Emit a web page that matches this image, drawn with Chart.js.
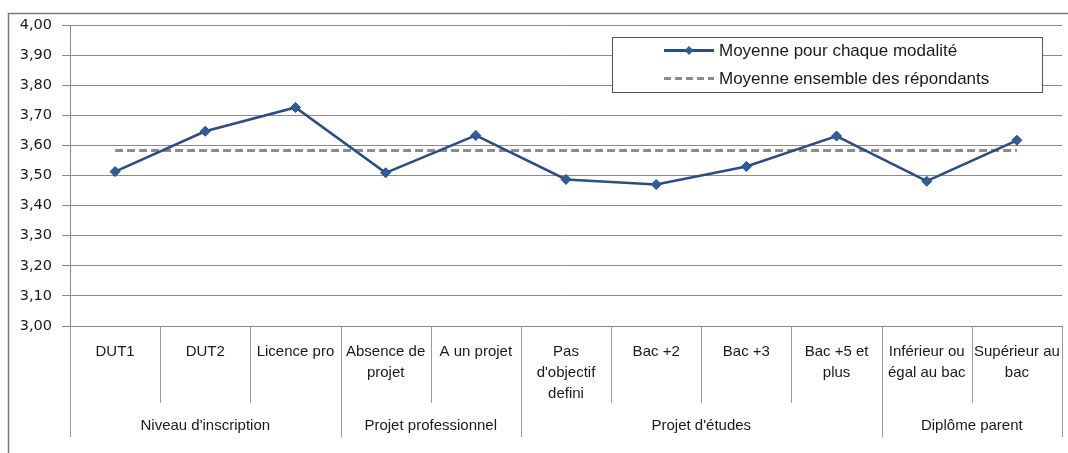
<!DOCTYPE html>
<html><head><meta charset="utf-8">
<script src="https://cdn.jsdelivr.net/npm/chart.js@4.4.1/dist/chart.umd.min.js"></script>
<style>html,body{margin:0;padding:0;background:#fff;overflow:hidden}#wrap{width:1068px;height:453px;position:relative}</style>
</head><body><div id="wrap"><canvas id="c" width="1068" height="453"></canvas></div>
<script>
// ---- data ----
const categories = [["DUT1"],["DUT2"],["Licence pro"],["Absence de","projet"],["A un projet"],["Pas","d'objectif","defini"],["Bac +2"],["Bac +3"],["Bac +5 et","plus"],["Inférieur ou","égal au bac"],["Supérieur au","bac"]];
const groupLabels = ["Niveau d'inscription","Projet professionnel","Projet d'études","Diplôme parent"];
const groupSizes = [3,2,4,2];
const seriesNames = ["Moyenne pour chaque modalité","Moyenne ensemble des répondants"];
const modalityMeans = [3.513,3.647,3.726,3.509,3.633,3.487,3.470,3.530,3.631,3.481,3.617];
const overallMean = [3.583,3.583,3.583,3.583,3.583,3.583,3.583,3.583,3.583,3.583,3.583];
const yMin = 3.0, yMax = 4.0, yStep = 0.1;

const BLUE = '#2a4d84';
const GREY = '#8c8c8c';

const decor = {
  id: 'decor',
  afterDraw(chart) {
    const ctx = chart.ctx, ca = chart.chartArea;
    const n = categories.length;
    const step = (ca.right - ca.left) / n;
    const edge = i => ca.left + i * step;
    ctx.save();
    const groupEdges = [0];
    groupSizes.forEach(s => groupEdges.push(groupEdges[groupEdges.length - 1] + s));
    ctx.strokeStyle = '#9a9a9a';
    ctx.lineWidth = 1;
    for (let i = 0; i <= n; i++) {
      const isGroup = groupEdges.includes(i);
      const px = Math.round(edge(i)) + 0.5;
      ctx.beginPath();
      ctx.moveTo(px, ca.bottom);
      ctx.lineTo(px, isGroup ? 437 : 403);
      ctx.stroke();
    }
    ctx.fillStyle = '#1a1a1a';
    ctx.font = '15px "Liberation Sans", Arial, sans-serif';
    ctx.textAlign = 'center';
    ctx.textBaseline = 'middle';
    groupLabels.forEach((g, k) => {
      const cx = (edge(groupEdges[k]) + edge(groupEdges[k + 1])) / 2;
      ctx.fillText(g, cx, 426);
    });
    // outer frame
    ctx.strokeStyle = '#7a7a7a';
    ctx.lineWidth = 1.5;
    ctx.beginPath();
    ctx.moveTo(8.5, 460);
    ctx.lineTo(8.5, 13.5);
    ctx.lineTo(1070, 13.5);
    ctx.stroke();
    // legend
    const lx = 612.5, ly = 37.5, lw = 430, lh = 55;
    ctx.fillStyle = '#fff';
    ctx.fillRect(lx, ly, lw, lh);
    ctx.strokeStyle = '#555';
    ctx.lineWidth = 1;
    ctx.strokeRect(lx, ly, lw, lh);
    const rows = [50.5, 78.5];
    ctx.strokeStyle = BLUE; ctx.lineWidth = 3; ctx.setLineDash([]);
    ctx.beginPath(); ctx.moveTo(664, rows[0]); ctx.lineTo(714, rows[0]); ctx.stroke();
    ctx.fillStyle = '#2f5d9a';
    ctx.beginPath();
    ctx.moveTo(689, rows[0] - 4.5); ctx.lineTo(693.5, rows[0]); ctx.lineTo(689, rows[0] + 4.5); ctx.lineTo(684.5, rows[0]); ctx.closePath();
    ctx.fill();
    ctx.strokeStyle = GREY; ctx.lineWidth = 3; ctx.setLineDash([7, 4]);
    ctx.beginPath(); ctx.moveTo(664, rows[1]); ctx.lineTo(714, rows[1]); ctx.stroke();
    ctx.setLineDash([]);
    ctx.fillStyle = '#1a1a1a';
    ctx.font = '17px "Liberation Sans", Arial, sans-serif';
    ctx.textAlign = 'left';
    ctx.textBaseline = 'middle';
    ctx.fillText(seriesNames[0], 719, rows[0] + 1);
    ctx.fillText(seriesNames[1], 719, rows[1] + 1);
    ctx.restore();
  }
};

new Chart(document.getElementById('c'), {
  type: 'line',
  data: {
    labels: categories,
    datasets: [
      {
        label: seriesNames[0], data: modalityMeans,
        borderColor: BLUE, borderWidth: 2.5, tension: 0,
        pointStyle: 'rectRot', pointRadius: 5, pointBackgroundColor: '#2f5d9a',
        pointBorderColor: '#264b82', pointBorderWidth: 1, order: 1
      },
      {
        label: seriesNames[1], data: overallMean,
        borderColor: GREY, borderWidth: 3, borderDash: [8, 4], pointRadius: 0, tension: 0, order: 2
      }
    ]
  },
  options: {
    responsive: false, animation: false, devicePixelRatio: 1,
    layout: { padding: { top: 25, right: 0, left: 0, bottom: 0 } },
    plugins: { legend: { display: false }, tooltip: { enabled: false } },
    scales: {
      x: {
        type: 'category', offset: true,
        grid: { display: false, drawTicks: false },
        border: { display: true, color: '#8a8a8a' },
        ticks: {
          autoSkip: false, maxRotation: 0, minRotation: 0, padding: 15,
          color: '#1a1a1a',
          font: { family: '"Liberation Sans", Arial, sans-serif', size: 15, lineHeight: 1.42 }
        },
        afterFit(s) { s.height = 127; s.paddingRight = 0; s.paddingLeft = 0; }
      },
      y: {
        min: yMin, max: yMax,
        grid: { color: '#8c8c8c', tickLength: 8, lineWidth: 1 },
        border: { display: true, color: '#8a8a8a' },
        ticks: {
          stepSize: yStep, padding: 10, color: '#1a1a1a',
          font: { family: '"DejaVu Sans", sans-serif', size: 14.5 },
          callback: v => v.toFixed(2).replace('.', ',')
        },
        afterFit(s) { s.width = 70; }
      }
    }
  },
  plugins: [decor]
});
</script>
</body></html>
